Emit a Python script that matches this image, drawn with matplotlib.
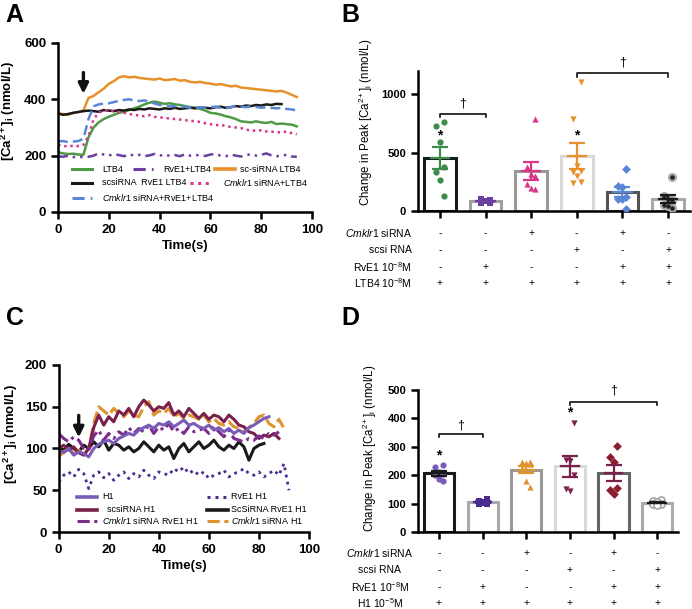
import numpy as np
import matplotlib
matplotlib.use("Agg")
import matplotlib.pyplot as plt
import matplotlib.transforms as mtransforms

plt.rcParams['font.family'] = ['Liberation Sans', 'DejaVu Sans']
plt.rcParams['mathtext.fontset'] = 'custom'
plt.rcParams['mathtext.rm'] = 'Liberation Sans'
plt.rcParams['mathtext.it'] = 'Liberation Sans:italic'
plt.rcParams['mathtext.bf'] = 'Liberation Sans:bold'
plt.rcParams['mathtext.default'] = 'regular'

# ---------------- panel A : Ca traces, LTB4 (sampled every 2 s) ----------------
a_ltb4 = [212, 208, 206, 207, 204, 203, 265, 300, 318, 330, 338, 345, 352, 356, 362, 368,
          374, 382, 388, 392, 388, 384, 386, 382, 380, 376, 372, 370, 366, 360, 352, 350,
          346, 340, 336, 330, 322, 320, 318, 322, 318, 316, 320, 312, 314, 312, 310, 304]
a_rve1 = [198, 196, 200, 195, 197, 194, 196, 200, 208, 204, 200, 206, 202, 198, 205, 200,
          203, 198, 201, 206, 200, 204, 199, 202, 198, 205, 200, 203, 200, 199, 204, 206,
          200, 198, 204, 200, 197, 202, 205, 200, 203, 208, 201, 198, 200, 203, 197, 196]
a_sc = [350, 348, 345, 352, 355, 360, 405, 412, 425, 438, 455, 465, 478, 482, 478, 480,
        476, 474, 472, 470, 474, 468, 470, 472, 466, 468, 462, 460, 462, 458, 456, 452,
        454, 450, 446, 448, 442, 440, 438, 436, 434, 432, 430, 428, 430, 424, 416, 408]
a_sc_rve1 = [350, 345, 348, 352, 355, 358, 360, 358, 356, 362, 360, 358, 362, 360, 364, 362,
             366, 364, 368, 366, 364, 368, 366, 370, 366, 368, 370, 368, 372, 370, 368, 372,
             374, 370, 372, 376, 374, 378, 376, 380, 378, 382, 380, 384, 383]
a_cm = [238, 235, 232, 236, 234, 238, 270, 330, 352, 360, 362, 358, 355, 352, 348, 345,
        342, 340, 344, 338, 336, 334, 332, 330, 328, 326, 324, 322, 320, 315, 312, 308,
        310, 305, 302, 300, 298, 292, 290, 288, 290, 286, 285, 284, 282, 286, 280, 276]
a_cm_rve1 = [250, 252, 248, 250, 252, 260, 330, 375, 382, 385, 386, 390, 395, 398, 400, 396,
             394, 396, 392, 385, 380, 378, 375, 376, 372, 374, 370, 368, 372, 370, 372, 374,
             370, 368, 372, 376, 374, 372, 375, 373, 370, 372, 370, 368, 370, 366, 364, 360]

# ---------------- panel C : Ca traces, H1 (sampled every 2 s) ----------------
c_h1 = [98, 95, 100, 92, 96, 94, 90, 100, 105, 108, 110, 106, 112, 115, 118, 116, 122, 125,
        128, 124, 130, 128, 132, 126, 130, 134, 128, 130, 126, 124, 128, 122, 125, 120, 124,
        118, 122, 118, 125, 128, 132, 136, 138]
c_sc = [100, 104, 98, 102, 95, 92, 100, 125, 140, 128, 138, 132, 145, 140, 148, 138, 150,
        158, 152, 145, 150, 148, 155, 140, 145, 138, 148, 142, 136, 142, 135, 140, 138, 132,
        140, 135, 128, 126, 120, 118, 112, 116, 114, 118, 112]
c_cm_rve1 = [118, 112, 108, 114, 110, 100, 98, 115, 122, 110, 118, 112, 120, 116, 125, 118,
             124, 120, 128, 118, 126, 122, 130, 120, 124, 118, 126, 120, 122, 124, 118, 126,
             120, 114, 122, 112, 110, 108, 112, 110, 115, 112, 118, 116, 120]
c_rve1 = [60, 68, 72, 66, 75, 70, 52, 68, 72, 65, 70, 62, 68, 72, 64, 70, 66, 74, 68, 64,
          72, 70, 68, 76, 72, 78, 70, 74, 68, 72, 64, 68, 70, 74, 66, 70, 72, 76, 70, 68,
          72, 66, 70, 74, 68, 82, 50]
c_sc_rve1 = [102, 98, 105, 100, 96, 104, 100, 108, 102, 110, 98, 106, 104, 98, 102, 96, 100,
             108, 102, 96, 104, 98, 102, 88, 100, 106, 96, 102, 108, 100, 104, 110, 102, 98,
             104, 100, 108, 102, 86, 100, 104, 106]
c_cm = [90, 96, 100, 94, 98, 92, 100, 130, 150, 145, 140, 148, 142, 138, 145, 140, 138, 150,
        156, 140, 145, 142, 148, 138, 142, 136, 140, 138, 135, 140, 132, 136, 130, 128, 132,
        126, 124, 120, 125, 130, 138, 140, 130, 126, 135, 124]

# ---------------- panel B : peak change, LTB4 ----------------
b_groups = [
    [760, 725, 595, 375, 335, 270, 125],
    [95, 100, 85, 70, 65, 90, 75],
    [785, 375, 320, 300, 230, 195, 190],
    [1110, 790, 390, 340, 335, 300, 245, 240],
    [360, 215, 205, 120, 105, 100, 15],
    [290, 130, 105, 95, 50, 40, 30],
]
b_rows = [r"$\it{Cmklr1}$ siRNA", "scsi RNA", r"RvE1 10$^{-8}$M", r"LTB4 10$^{-8}$M"]
b_table = [["-", "-", "+", "-", "+", "-"],
           ["-", "-", "-", "+", "-", "+"],
           ["-", "+", "-", "-", "+", "+"],
           ["+", "+", "+", "+", "+", "+"]]

# ---------------- panel D : peak change, H1 ----------------
d_groups = [
    [237, 228, 212, 205, 200, 187, 178],
    [115, 110, 105, 100, 98, 102, 108],
    [248, 245, 242, 240, 225, 180, 160],
    [385, 255, 250, 200, 150, 145],
    [303, 265, 245, 155, 148, 135],
    [112, 110, 106, 100, 98, 96],
]
d_rows = [r"$\it{Cmklr1}$ siRNA", "scsi RNA", r"RvE1 10$^{-8}$M", r"H1 10$^{-5}$M"]
d_table = b_table

fig = plt.figure(figsize=(6.92, 6.09), dpi=100)


def style_axes(ax, size):
    for s in ['top', 'right']:
        ax.spines[s].set_visible(False)
    for s in ['left', 'bottom']:
        ax.spines[s].set_linewidth(1.8)
    ax.tick_params(width=1.8, length=5, labelsize=size, direction='out')
    for lab in ax.get_xticklabels() + ax.get_yticklabels():
        lab.set_fontweight('bold')


def manual_legend(ax, entries, fs):
    for x0, x1, xt, y, label, kw in entries:
        ax.plot([x0, x1], [y, y], transform=ax.transAxes, clip_on=False, **kw)
        ax.text(xt, y, label, transform=ax.transAxes, fontsize=fs, va='center', ha='left')


def trace_panel(ax, series, ymax, yticks, arrow_t, arrow_y, ylab_pos):
    for vals, kw in series:
        t = np.arange(len(vals)) * 2
        ax.plot(t, vals, **kw)
    ax.set_xlim(0, 100)
    ax.set_ylim(0, ymax)
    ax.set_xticks([0, 20, 40, 60, 80, 100])
    ax.set_yticks(yticks)
    ax.annotate('', xy=(arrow_t, arrow_y[1]), xytext=(arrow_t, arrow_y[0]),
                arrowprops=dict(arrowstyle='-|>', color='#111111', lw=2.4, mutation_scale=15))
    ax.set_xlabel('Time(s)', fontsize=9.5, fontweight='bold', labelpad=3)
    ax.set_ylabel(r'[Ca$^{2+}$]$_i$ (nmol/L)', fontsize=9.5, fontweight='bold')
    ax.yaxis.set_label_coords(*ylab_pos)
    style_axes(ax, 9.5)


def bar_panel(ax, groups, edges, colors, markers, errcol, ymax, yticks, width, ylab_pos):
    offs = [0.09, -0.09, 0.0, 0.09, -0.09, 0.0, 0.09, -0.09]
    for i, vals in enumerate(groups):
        v = np.array(vals, dtype=float)
        m = v.mean()
        sem = v.std(ddof=1) / np.sqrt(len(v))
        ax.bar(i, m, width=width, facecolor='white', edgecolor=edges[i], linewidth=2.2, zorder=2)
        xs = i + np.array(offs[:len(v)])
        mk = markers[i]
        if mk == 'open':
            ax.scatter(xs, v, s=26, facecolor='white', edgecolor=colors[i], linewidth=1.3, zorder=3)
        elif mk == 'dot':
            ax.scatter(xs, v, s=30, color=colors[i], zorder=3)
            ax.scatter(xs, v, s=5, color='#222222', zorder=4)
        else:
            ax.scatter(xs, v, s=20, marker=mk, color=colors[i], zorder=3, linewidths=0)
        ax.errorbar(i, m, yerr=sem, color=errcol[i], capsize=6, capthick=1.6, elinewidth=1.6,
                    zorder=5)
        ax.plot([i - 0.2, i + 0.2], [m, m], color=errcol[i], lw=1.6, zorder=5)
    ax.set_xlim(-0.48, 5.48)
    ax.set_ylim(0, ymax)
    ax.set_yticks(yticks)
    ax.set_xticks(range(len(groups)))
    ax.set_xticklabels([])
    ax.set_ylabel(r'Change in Peak [Ca$^{2+}$]$_i$ (nmol/L)', fontsize=8.3)
    ax.yaxis.set_label_coords(*ylab_pos)
    style_axes(ax, 8)


def bracket(ax, x0, x1, y, drop, label_y):
    ax.plot([x0, x0, x1, x1], [y - drop, y, y, y - drop], color='#111111', lw=1.2, clip_on=False)
    ax.text((x0 + x1) / 2, label_y, u'\u2020', ha='center', va='center', fontsize=9,
            clip_on=False)


def cond_table(ax, rows, table, ys, label_x, ha):
    tr = mtransforms.blended_transform_factory(ax.transData, fig.transFigure)
    for r, (lab, y) in enumerate(zip(rows, ys)):
        fig.text(label_x, y, lab, ha=ha, va='center', fontsize=7.5)
        for i, s in enumerate(table[r]):
            ax.text(i, y, s, transform=tr, ha='center', va='center', fontsize=7.5)


# ---- A ----
axA = fig.add_axes([0.0838, 0.6519, 0.3671, 0.2775])
trace_panel(axA, [
    (a_ltb4, dict(color='#4e9a45', lw=1.8)),
    (a_rve1, dict(color='#6a3fa0', lw=1.8, ls=(0, (4, 2, 1, 2, 1, 2)))),
    (a_sc, dict(color='#e8902a', lw=1.8)),
    (a_sc_rve1, dict(color='#1a1a1a', lw=1.8)),
    (a_cm, dict(color='#d9368a', lw=1.8, ls=(0, (1, 1.5)))),
    (a_cm_rve1, dict(color='#5b86d4', lw=1.8, ls=(0, (4, 2)))),
], 600, [0, 200, 400, 600], 10, (505, 410), (-0.16, 0.6))
manual_legend(axA, [
    (0.055, 0.134, 0.173, 0.254, 'LTB4', dict(color='#4e9a45', lw=2.2)),
    (0.295, 0.374, 0.413, 0.254, 'RvE1+LTB4', dict(color='#6a3fa0', lw=2.2, ls=(0, (4, 2, 1, 2, 1, 2)))),
    (0.618, 0.697, 0.717, 0.254, 'sc-siRNA LTB4', dict(color='#e8902a', lw=2.6)),
    (0.055, 0.134, 0.173, 0.172, 'scsiRNA  RvE1 LTB4', dict(color='#1a1a1a', lw=2.2)),
    (0.52, 0.61, 0.65, 0.172, r'$\it{Cmklr1}$ siRNA+LTB4', dict(color='#d9368a', lw=2.2, ls=(0, (1, 1.5)))),
    (0.055, 0.134, 0.173, 0.083, r'$\it{Cmklr1}$ siRNA+RvE1+LTB4', dict(color='#5b86d4', lw=2.2, ls=(0, (4, 2)))),
], 6.5)

# ---- C ----
axC = fig.add_axes([0.0848, 0.1264, 0.3617, 0.2743])
trace_panel(axC, [
    (c_rve1, dict(color='#4b2d8f', lw=2.0, ls=(0, (1, 1.6)))),
    (c_sc_rve1, dict(color='#1a1a1a', lw=2.2)),
    (c_cm, dict(color='#e0922f', lw=2.2, ls=(0, (4, 1.5)))),
    (c_sc, dict(color='#7b1f4b', lw=2.2)),
    (c_cm_rve1, dict(color='#7c2c8c', lw=2.2, ls=(0, (4, 1.5, 1, 1.5)))),
    (c_h1, dict(color='#7a5cb8', lw=2.2)),
], 200, [0, 50, 100, 150, 200], 8, (143, 110), (-0.155, 0.587))
manual_legend(axC, [
    (0.073, 0.153, 0.173, 0.211, 'H1', dict(color='#7a5cb8', lw=2.6)),
    (0.592, 0.676, 0.69, 0.211, 'RvE1 H1', dict(color='#4b2d8f', lw=2.2, ls=(0, (1, 1.6)))),
    (0.073, 0.153, 0.193, 0.132, 'scsiRNA H1', dict(color='#7b1f4b', lw=2.6)),
    (0.592, 0.676, 0.69, 0.132, 'ScSiRNA RvE1 H1', dict(color='#1a1a1a', lw=2.6)),
    (0.073, 0.153, 0.173, 0.068, r'$\it{Cmklr1}$ siRNA RvE1 H1', dict(color='#7c2c8c', lw=2.2, ls=(0, (4, 1.5, 1, 1.5, 1, 1.5)))),
    (0.592, 0.676, 0.69, 0.068, r'$\it{Cmklr1}$ siRNA H1', dict(color='#e0922f', lw=2.2, ls=(0, (4, 1.5)))),
], 6.5)

# ---- B ----
axB = fig.add_axes([0.604, 0.6535, 0.393, 0.2299])
bar_panel(axB, b_groups,
          ['#1a1a1a', '#a0a0a0', '#999999', '#d9d9d9', '#555555', '#a8a8a8'],
          ['#3d8c4a', '#6a3fa0', '#d9368a', '#e8902a', '#5b86d4', '#aaaaaa'],
          ['o', 's', '^', 'v', 'D', 'dot'],
          ['#3d8c4a', '#6a3fa0', '#d9368a', '#e8902a', '#5b86d4', '#1a1a1a'],
          1200, [0, 500, 1000], 0.69, (-0.158, 0.636))
axB.text(0, 650, '*', ha='center', va='center', fontsize=10, fontweight='bold')
axB.text(3, 650, '*', ha='center', va='center', fontsize=10, fontweight='bold')
bracket(axB, 0, 1, 835, 30, 920)
bracket(axB, 3, 5, 1182, 30, 1275)
cond_table(axB, b_rows, b_table, [0.617, 0.5895, 0.5616, 0.5353], 0.595, 'right')

# ---- D ----
axD = fig.add_axes([0.604, 0.1264, 0.376, 0.2332])
bar_panel(axD, d_groups,
          ['#1a1a1a', '#aaaaaa', '#999999', '#d9d9d9', '#666666', '#aaaaaa'],
          ['#7a5cb8', '#4b2d8f', '#e0922f', '#7b1f4b', '#8b1e2e', '#aaaaaa'],
          ['o', 's', '^', 'v', 'D', 'open'],
          ['#1a1a1a', '#4b2d8f', '#e0922f', '#7b1f4b', '#7b1f4b', '#1a1a1a'],
          500, [0, 100, 200, 300, 400, 500], 0.69, (-0.15, 0.59))
axD.text(0, 268, '*', ha='center', va='center', fontsize=10, fontweight='bold')
axD.text(3, 422, '*', ha='center', va='center', fontsize=10, fontweight='bold')
bracket(axD, 0, 1, 344, 11, 375)
bracket(axD, 3, 5, 459, 11, 500)
cond_table(axD, d_rows, d_table, [0.092, 0.064, 0.036, 0.0099], 0.549, 'center')

# panel letters
for x, y, s in [(0.008, 0.995, 'A'), (0.493, 0.995, 'B'), (0.008, 0.497, 'C'), (0.493, 0.497, 'D')]:
    fig.text(x, y, s, fontsize=18, fontweight='bold', va='top', ha='left')

fig.savefig('out.png', dpi=100)
